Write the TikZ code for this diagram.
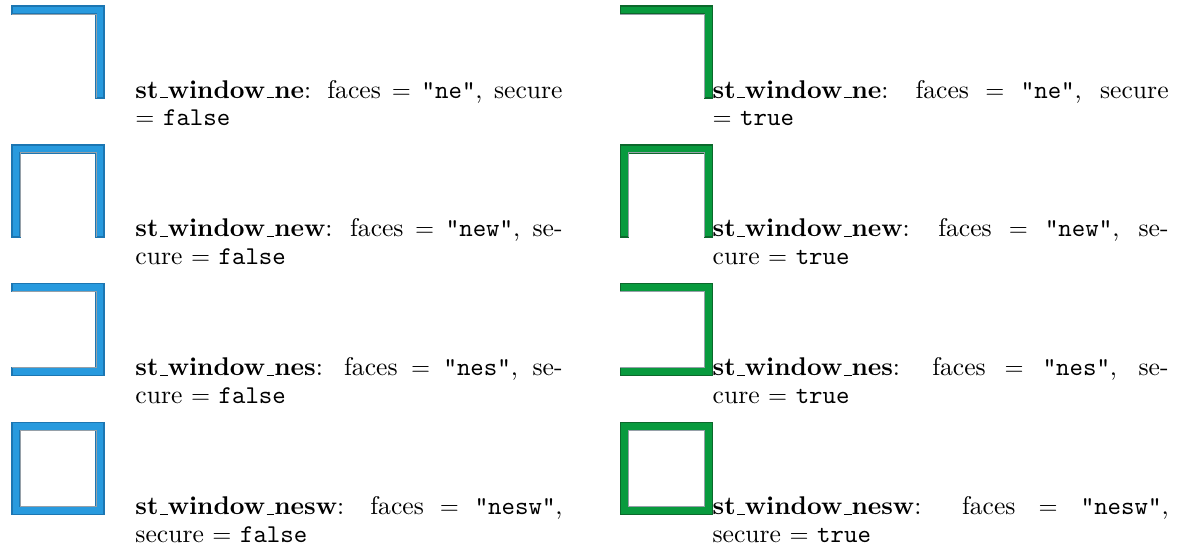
\documentclass[tikz,border=0pt]{standalone}
\usetikzlibrary{positioning}
\definecolor{wallblue}{RGB}{40,154,222}
\definecolor{wallblueedge}{RGB}{28,118,178}
\definecolor{wallgreen}{RGB}{8,154,62}
\definecolor{wallgreenedge}{RGB}{12,104,44}
\definecolor{wallinner}{RGB}{150,160,168}
\newcommand{\ulbar}{\kern.06em\vbox{\hrule width.3em}}
\newcommand{\barw}{3.27}

\begin{document}
\begin{tikzpicture}[
    x=1pt, y=1pt,
    winbox/.style={rectangle, minimum size=37.55pt, inner sep=0pt, outer sep=0pt},
    desc/.style={anchor=base west, inner sep=0pt, align=justify, font=\fontsize{10.45}{11.4}\selectfont},
    wall/.style={line width=0.5pt, line join=miter},
    inneredge/.style={draw=wallinner, line width=0.4pt},
    node distance=19.15pt,
]
\useasboundingbox (0,0) rectangle (482,-226.1);
\foreach \side/\xpos/\gapx/\tw/\clr/\val in {l/4.9/12.65/174.3/blue/false, r/253.1/0/186.1/green/true} {
  % window pieces
  \node[winbox, anchor=north west] (ne-\side) at (\xpos,-2.45) {};
  \node[winbox, below=of ne-\side] (new-\side) {};
  \node[winbox, below=of new-\side] (nes-\side) {};
  \node[winbox, below=of nes-\side] (nesw-\side) {};
  \filldraw[wall, fill=wall\clr, draw=wall\clr edge] (ne-\side.north west) -- (ne-\side.north east) -- (ne-\side.south east)
    -- ([xshift=-\barw]ne-\side.south east) -- ([shift={(-\barw,-\barw)}]ne-\side.north east) -- ([yshift=-\barw]ne-\side.north west) -- cycle;
  \draw[inneredge] ([yshift=-\barw]ne-\side.north west) -- ([shift={(-\barw,-\barw)}]ne-\side.north east) -- ([xshift=-\barw]ne-\side.south east);
  \filldraw[wall, fill=wall\clr, draw=wall\clr edge] (new-\side.south west) -- (new-\side.north west) -- (new-\side.north east) -- (new-\side.south east)
    -- ([xshift=-\barw]new-\side.south east) -- ([shift={(-\barw,-\barw)}]new-\side.north east) -- ([shift={(\barw,-\barw)}]new-\side.north west) -- ([xshift=\barw]new-\side.south west) -- cycle;
  \draw[inneredge] ([xshift=\barw]new-\side.south west) -- ([shift={(\barw,-\barw)}]new-\side.north west) -- ([shift={(-\barw,-\barw)}]new-\side.north east) -- ([xshift=-\barw]new-\side.south east);
  \filldraw[wall, fill=wall\clr, draw=wall\clr edge] (nes-\side.north west) -- (nes-\side.north east) -- (nes-\side.south east) -- (nes-\side.south west)
    -- ([yshift=\barw]nes-\side.south west) -- ([shift={(-\barw,\barw)}]nes-\side.south east) -- ([shift={(-\barw,-\barw)}]nes-\side.north east) -- ([yshift=-\barw]nes-\side.north west) -- cycle;
  \draw[inneredge] ([yshift=\barw]nes-\side.south west) -- ([shift={(-\barw,\barw)}]nes-\side.south east) -- ([shift={(-\barw,-\barw)}]nes-\side.north east) -- ([yshift=-\barw]nes-\side.north west);
  \filldraw[wall, even odd rule, fill=wall\clr, draw=wall\clr edge] (nesw-\side.north west) rectangle (nesw-\side.south east)
    ([shift={(\barw,-\barw)}]nesw-\side.north west) rectangle ([shift={(-\barw,\barw)}]nesw-\side.south east);
  \draw[inneredge] ([shift={(\barw,-\barw)}]nesw-\side.north west) rectangle ([shift={(-\barw,\barw)}]nesw-\side.south east);
  % descriptions
  \node[desc, text width=\tw pt] (ne-\side-txt) at ([xshift=\gapx]ne-\side.south east)
    {\textbf{st\ulbar window\ulbar ne}: faces $=$ \texttt{"ne"}, secure\linebreak $=$ \texttt{\val}};
  \node[desc, text width=\tw pt] (new-\side-txt) at ([xshift=\gapx]new-\side.south east)
    {\textbf{st\ulbar window\ulbar new}: faces $=$ \texttt{"new"}, se-\linebreak cure $=$ \texttt{\val}};
  \node[desc, text width=\tw pt] (nes-\side-txt) at ([xshift=\gapx]nes-\side.south east)
    {\textbf{st\ulbar window\ulbar nes}: faces $=$ \texttt{"nes"}, se-\linebreak cure $=$ \texttt{\val}};
  \node[desc, text width=\tw pt] (nesw-\side-txt) at ([xshift=\gapx]nesw-\side.south east)
    {\textbf{st\ulbar window\ulbar nesw}: faces $=$ \texttt{"nesw"},\linebreak secure $=$ \texttt{\val}};
}
\end{tikzpicture}
\end{document}
